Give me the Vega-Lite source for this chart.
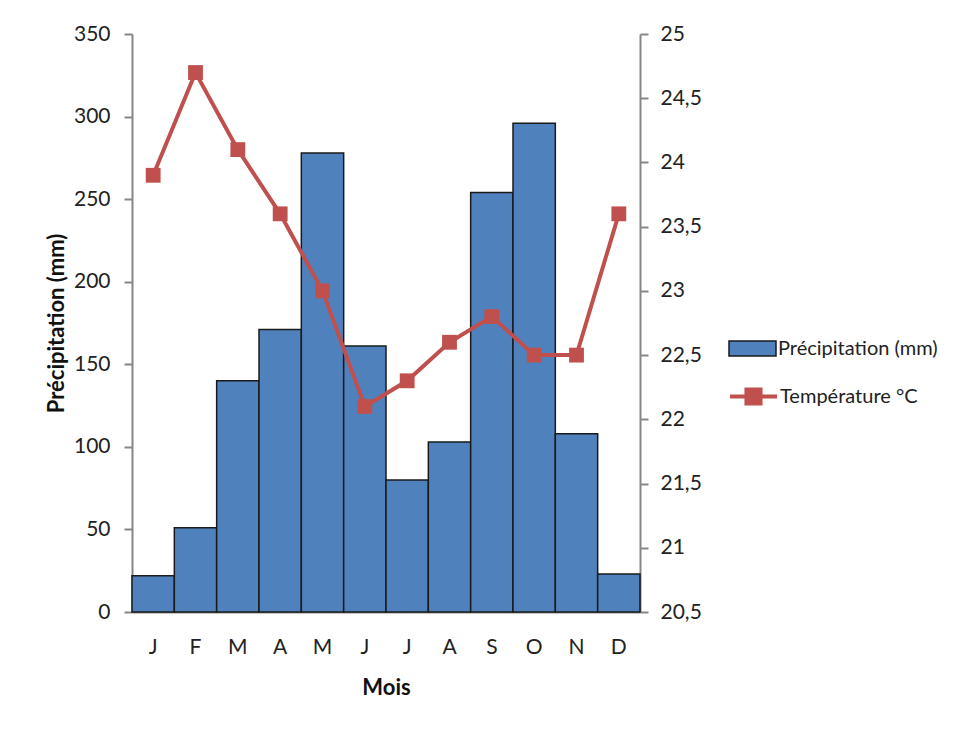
{
  "$schema": "https://vega.github.io/schema/vega-lite/v6.json",
  "autosize": "none",
  "width": 508,
  "height": 578,
  "padding": {"left": 132, "top": 34, "right": 331, "bottom": 119},
  "background": "white",
  "config": {
    "view": {"stroke": null},
    "font": "Lato",
    "axis": {"labelFont": "Lato", "titleFont": "Lato", "labelFontSize": 21, "titleFontSize": 22, "labelColor": "#222", "titleColor": "#111", "domainColor": "#868686", "tickColor": "#868686", "domainWidth": 2, "tickWidth": 2, "grid": false}
  },
  "data": {"values": [
    {"m": 1, "precip": 22, "temp": 23.9, "s1": "Précipitation (mm)", "s2": "Température °C"},
    {"m": 2, "precip": 51, "temp": 24.7, "s1": "Précipitation (mm)", "s2": "Température °C"},
    {"m": 3, "precip": 140, "temp": 24.1, "s1": "Précipitation (mm)", "s2": "Température °C"},
    {"m": 4, "precip": 171, "temp": 23.6, "s1": "Précipitation (mm)", "s2": "Température °C"},
    {"m": 5, "precip": 278, "temp": 23.0, "s1": "Précipitation (mm)", "s2": "Température °C"},
    {"m": 6, "precip": 161, "temp": 22.1, "s1": "Précipitation (mm)", "s2": "Température °C"},
    {"m": 7, "precip": 80, "temp": 22.3, "s1": "Précipitation (mm)", "s2": "Température °C"},
    {"m": 8, "precip": 103, "temp": 22.6, "s1": "Précipitation (mm)", "s2": "Température °C"},
    {"m": 9, "precip": 254, "temp": 22.8, "s1": "Précipitation (mm)", "s2": "Température °C"},
    {"m": 10, "precip": 296, "temp": 22.5, "s1": "Précipitation (mm)", "s2": "Température °C"},
    {"m": 11, "precip": 108, "temp": 22.5, "s1": "Précipitation (mm)", "s2": "Température °C"},
    {"m": 12, "precip": 23, "temp": 23.6, "s1": "Précipitation (mm)", "s2": "Température °C"}
  ]},
  "encoding": {
    "x": {"field": "m", "type": "ordinal", "scale": {"paddingInner": 0, "paddingOuter": 0},
      "axis": {"title": "Mois", "labelAngle": 0, "ticks": false, "labelPadding": 24, "titlePadding": 20, "titleFontWeight": "bold",
        "labelExpr": "['J','F','M','A','M','J','J','A','S','O','N','D'][datum.value-1]"}}
  },
  "layer": [
    {
      "mark": {"type": "bar", "stroke": "#1a1a1a", "strokeWidth": 1.5},
      "encoding": {
        "y": {"field": "precip", "type": "quantitative", "scale": {"domain": [0, 350], "nice": false},
          "axis": {"title": "Précipitation (mm)", "titleFontWeight": "bold", "values": [0,50,100,150,200,250,300,350], "tickSize": 8, "labelPadding": 14, "titlePadding": 5}},
        "fill": {"field": "s1", "type": "nominal", "scale": {"range": ["#4F81BD"]},
          "legend": {"title": null, "orient": "none", "legendX": 596, "legendY": 290, "padding": 0, "labelFont": "Lato", "labelFontSize": 20, "labelLimit": 400, "labelColor": "#222", "labelOffset": 1,
            "symbolType": "M-1,-0.32L1,-0.32L1,0.32L-1,0.32Z", "symbolSize": 2209, "symbolStrokeColor": "#1a1a1a", "symbolStrokeWidth": 1.5, "symbolFillColor": "#4F81BD", "symbolOpacity": 1}}
      }
    },
    {
      "mark": {"type": "line", "strokeWidth": 4},
      "encoding": {
        "y": {"field": "temp", "type": "quantitative", "scale": {"domain": [20.5, 25], "nice": false, "zero": false},
          "axis": {"title": null, "orient": "right", "values": [20.5,21,21.5,22,22.5,23,23.5,24,24.5,25], "format": "~g", "labelExpr": "replace(datum.label, '.', ',')", "tickSize": 8, "labelPadding": 12}},
        "stroke": {"field": "s2", "type": "nominal", "scale": {"range": ["#C0504D"]},
          "legend": {"title": null, "orient": "none", "legendX": 596, "legendY": 337, "padding": 0, "labelFont": "Lato", "labelFontSize": 20, "labelLimit": 400, "labelColor": "#222", "labelOffset": 1,
            "symbolType": "M-1,0L1,0M-0.3,-0.3L0.3,-0.3L0.3,0.3L-0.3,0.3Z", "symbolSize": 2209, "symbolStrokeColor": "#C0504D", "symbolFillColor": "#C0504D", "symbolStrokeWidth": 4, "symbolOpacity": 1}}
      }
    },
    {
      "mark": {"type": "point", "shape": "square", "filled": true, "size": 220, "color": "#C0504D", "opacity": 1},
      "encoding": {
        "y": {"field": "temp", "type": "quantitative", "scale": {"domain": [20.5, 25], "nice": false, "zero": false}, "axis": null}
      }
    }
  ],
  "resolve": {"scale": {"y": "independent"}}
}
